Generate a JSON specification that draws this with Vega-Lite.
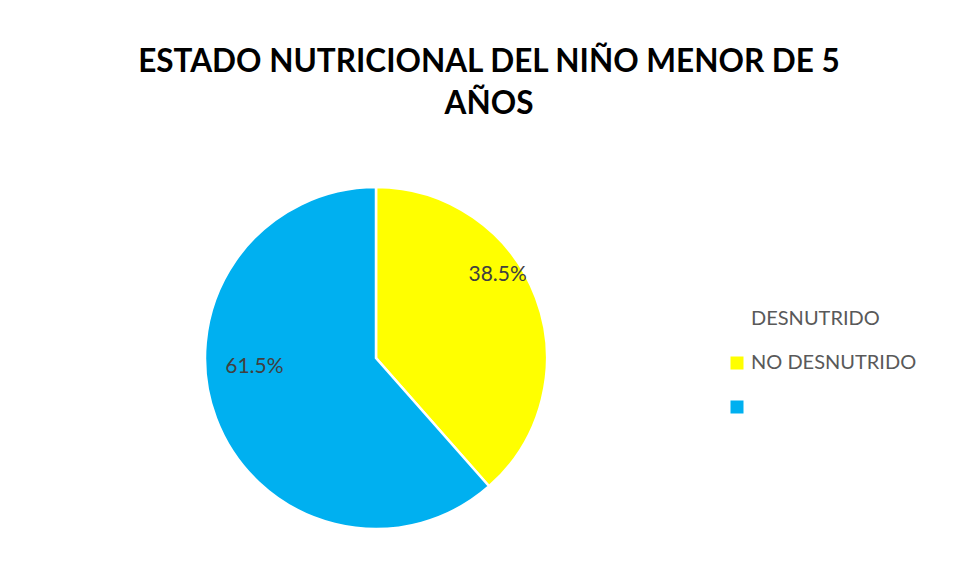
{
  "$schema": "https://vega.github.io/schema/vega-lite/v6.json",
  "width": 752,
  "height": 400,
  "autosize": {"type": "none"},
  "padding": {"left": 0, "top": 158, "right": 203, "bottom": 23},
  "background": "white",
  "title": {
    "text": ["ESTADO NUTRICIONAL DEL NIÑO MENOR DE 5", "AÑOS"],
    "font": "Lato",
    "fontSize": 31.5,
    "fontWeight": "bold",
    "color": "#000000",
    "anchor": "middle",
    "dx": 113,
    "offset": 38,
    "lineHeight": 42
  },
  "data": {
    "values": [
      {"estado": "DESNUTRIDO", "valor": 0.385},
      {"estado": "NO DESNUTRIDO", "valor": 0.615}
    ]
  },
  "encoding": {
    "theta": {"field": "valor", "type": "quantitative", "stack": true},
    "order": {"field": "estado", "type": "nominal", "sort": "ascending"}
  },
  "layer": [
    {
      "mark": {"type": "arc", "outerRadius": 171, "stroke": "white", "strokeWidth": 2.5},
      "encoding": {
        "color": {
          "field": "estado",
          "type": "nominal",
          "scale": {
            "domain": ["encabezado", "DESNUTRIDO", "NO DESNUTRIDO"],
            "range": ["#FFFFFF", "#FFFF00", "#00B0F0"]
          },
          "legend": {
            "orient": "none",
            "legendX": 727,
            "legendY": 151,
            "title": null,
            "padding": 0,
            "symbolType": "square",
            "symbolSize": 169,
            "symbolStrokeWidth": 0,
            "labelFont": "Lato",
            "labelFontSize": 20,
            "labelColor": "#595959",
            "labelOffset": 4,
            "labelLimit": 400,
            "rowPadding": 24,
            "labelExpr": "datum.value == 'encabezado' ? 'DESNUTRIDO' : datum.value == 'DESNUTRIDO' ? 'NO DESNUTRIDO' : ''"
          }
        }
      }
    },
    {
      "mark": {"type": "text", "radius": 130, "dy": -37, "fontSize": 21, "font": "Lato", "color": "#404040"},
      "encoding": {
        "text": {"field": "valor", "type": "quantitative", "format": ".1%"}
      }
    }
  ],
  "config": {"view": {"stroke": null}}
}
